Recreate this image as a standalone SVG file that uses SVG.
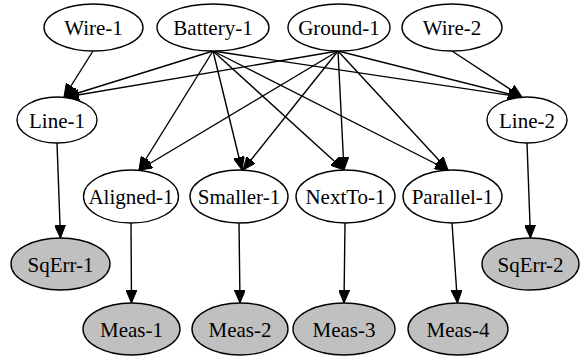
<svg xmlns="http://www.w3.org/2000/svg" width="581" height="360" viewBox="0 0 581 360">
<style>
.n ellipse{fill:#ffffff;stroke:#000;stroke-width:1.4}
.g ellipse{fill:#c0c0c0}
.e path{fill:none;stroke:#000;stroke-width:1.4;marker-end:url(#ah)}
text{font-family:"Liberation Serif","Times New Roman",Times,serif;font-size:21px;text-anchor:middle;fill:#000}
</style>
<defs>
<marker id="ah" viewBox="0 0 13 11" refX="13" refY="5.5" markerWidth="13" markerHeight="11" markerUnits="userSpaceOnUse" orient="auto">
<path d="M0,0 L13,5.5 L0,11 z" fill="#000" stroke="#000" stroke-width="1"/>
</marker>
</defs>
<rect width="581" height="360" fill="#fff"/>
<g id="edges" class="e">
<path d="M93,51 L64,97"/>
<path d="M213,51 L65,97"/>
<path d="M338,51 L66,97"/>
<path d="M213,51 L139,170"/>
<path d="M338,51 L139,170"/>
<path d="M213,51 L242,170"/>
<path d="M338,51 L243,170"/>
<path d="M213,51 L344,170"/>
<path d="M338,51 L344,170"/>
<path d="M213,51 L448,170"/>
<path d="M338,51 L448,170"/>
<path d="M213,51 L521,97"/>
<path d="M338,51 L521,97"/>
<path d="M452,51 L522,97"/>
<path d="M57,143 L60.5,238"/>
<path d="M527,143 L530.5,238"/>
<path d="M131,223 L131.5,303"/>
<path d="M239,223 L240,303"/>
<path d="M345,223 L344,303"/>
<path d="M452,223 L457.5,303"/>
</g>
<g id="Wire-1" class="n"><ellipse cx="93.5" cy="27.5" rx="49.5" ry="23.5"/><text x="93.5" y="35">Wire-1</text></g>
<g id="Battery-1" class="n"><ellipse cx="213" cy="27.5" rx="56" ry="23.5"/><text x="213" y="35">Battery-1</text></g>
<g id="Ground-1" class="n"><ellipse cx="339" cy="27.5" rx="51" ry="23.5"/><text x="339" y="35">Ground-1</text></g>
<g id="Wire-2" class="n"><ellipse cx="452" cy="27.5" rx="50" ry="23.5"/><text x="452" y="35">Wire-2</text></g>
<g id="Line-1" class="n"><ellipse cx="57" cy="120" rx="40" ry="23"/><text x="57" y="127.5">Line-1</text></g>
<g id="Line-2" class="n"><ellipse cx="527" cy="120" rx="40" ry="23"/><text x="527" y="127.5">Line-2</text></g>
<g id="Aligned-1" class="n"><ellipse cx="131" cy="196.5" rx="47.5" ry="26.5"/><text x="131" y="204">Aligned-1</text></g>
<g id="Smaller-1" class="n"><ellipse cx="239" cy="196.5" rx="49" ry="26.5"/><text x="239" y="204">Smaller-1</text></g>
<g id="NextTo-1" class="n"><ellipse cx="345.5" cy="196.5" rx="49.5" ry="26.5"/><text x="345.5" y="204">NextTo-1</text></g>
<g id="Parallel-1" class="n"><ellipse cx="452.5" cy="196.5" rx="49.5" ry="26.5"/><text x="452.5" y="204">Parallel-1</text></g>
<g id="SqErr-1" class="n g"><ellipse cx="60.5" cy="264" rx="49.5" ry="26"/><text x="60.5" y="271.5">SqErr-1</text></g>
<g id="SqErr-2" class="n g"><ellipse cx="530.5" cy="264" rx="48.5" ry="26"/><text x="530.5" y="271.5">SqErr-2</text></g>
<g id="Meas-1" class="n g"><ellipse cx="131.5" cy="329" rx="48.5" ry="26"/><text x="131.5" y="336.5">Meas-1</text></g>
<g id="Meas-2" class="n g"><ellipse cx="240" cy="329" rx="48" ry="26"/><text x="240" y="336.5">Meas-2</text></g>
<g id="Meas-3" class="n g"><ellipse cx="344" cy="329" rx="51" ry="26"/><text x="344" y="336.5">Meas-3</text></g>
<g id="Meas-4" class="n g"><ellipse cx="458" cy="329" rx="50" ry="26"/><text x="458" y="336.5">Meas-4</text></g>
</svg>
